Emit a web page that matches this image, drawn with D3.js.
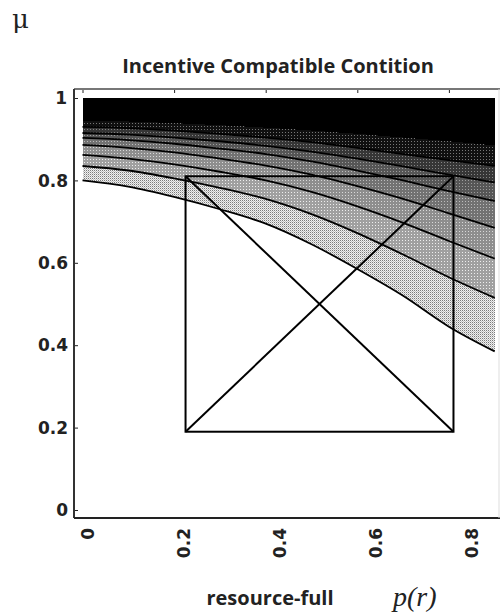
<!DOCTYPE html>
<html>
<head>
<meta charset="utf-8">
<script src="https://cdn.jsdelivr.net/npm/d3@7"></script>
<style>
	body { margin: 0; background: #fff; }
</style>
</head>
<body>
<div id="container"></div>
<script>
(function () {
	// p(r) grid and the contour levels (bottom to top)
	var pr = [0, 0.1, 0.2, 0.3, 0.4, 0.5, 0.6, 0.7, 0.8, 0.9];
	var level1 = [0.800, 0.785, 0.760, 0.730, 0.695, 0.645, 0.585, 0.520, 0.445, 0.385];
	var level2 = [0.835, 0.824, 0.805, 0.782, 0.755, 0.718, 0.672, 0.620, 0.565, 0.515];
	var level3 = [0.862, 0.853, 0.839, 0.821, 0.800, 0.772, 0.737, 0.697, 0.653, 0.610];
	var level4 = [0.886, 0.879, 0.868, 0.853, 0.836, 0.814, 0.786, 0.755, 0.720, 0.685];
	var level5 = [0.903, 0.898, 0.889, 0.877, 0.864, 0.846, 0.824, 0.800, 0.774, 0.750];
	var level6 = [0.915, 0.911, 0.904, 0.895, 0.884, 0.870, 0.853, 0.834, 0.814, 0.795];
	var level7 = [0.930, 0.927, 0.921, 0.913, 0.904, 0.893, 0.879, 0.864, 0.849, 0.835];
	var level8 = [0.945, 0.943, 0.939, 0.934, 0.928, 0.921, 0.913, 0.904, 0.895, 0.885];
	var topLevel = [1, 1, 1, 1, 1, 1, 1, 1, 1, 1];

	// the rectangle with its two diagonals
	var boxX = [0.225, 0.81];
	var boxY = [0.19, 0.81];

	var xTicks = [0, 0.2, 0.4, 0.6, 0.8];
	var yTicks = [0, 0.2, 0.4, 0.6, 0.8, 1];

	var levels = [level1, level2, level3, level4, level5, level6, level7, level8, topLevel];

	// fill of each band: background and dither dot
	var shades = [
		{bg: "#f0f0f0", dot: "#7a7a7a", size: 2},
		{bg: "#a0a0a0", dot: "#eeeeee", size: 3},
		{bg: "#8e8e8e", dot: "#d8d8d8", size: 3},
		{bg: "#727272", dot: "#bcbcbc", size: 3},
		{bg: "#565656", dot: "#9c9c9c", size: 3},
		{bg: "#363636", dot: "#858585", size: 3},
		{bg: "#101010", dot: "#777777", size: 3},
		{bg: "#000000", dot: "#000000", size: 3}
	];

	var svg = d3.select("#container")
		.append("svg")
			.attr("width", 500)
			.attr("height", 615);

	// scales
	var xScale = d3.scaleLinear()
		.domain([0, 1])
		.range([82.5, 540.5]);

	// the printed tick labels sit a little off their ticks
	var xLabelScale = d3.scaleLinear()
		.domain([0, 0.8])
		.range([88, 472]);

	var yScale = d3.scaleLinear()
		.domain([0, 1])
		.range([510, 98]);

	// patterns
	var defs = svg.append("defs");
	shades.forEach(function (s, i) {
		var p = defs.append("pattern")
			.attr("id", "band" + i)
			.attr("patternUnits", "userSpaceOnUse")
			.attr("width", s.size)
			.attr("height", s.size);
		p.append("rect")
			.attr("width", s.size)
			.attr("height", s.size)
			.attr("fill", s.bg);
		p.append("rect")
			.attr("width", 1)
			.attr("height", 1)
			.attr("fill", s.dot);
		if (s.size == 2) {
			p.append("rect")
				.attr("x", 1).attr("y", 1)
				.attr("width", 1).attr("height", 1)
				.attr("fill", "#c0c0c0");
		}
	});

	// bands
	for (var i = 0; i < levels.length - 1; i++) {
		var lo = levels[i], hi = levels[i + 1];
		var area = d3.area()
			.curve(d3.curveMonotoneX)
			.x(function (d, j) { return xScale(pr[j]); })
			.y0(function (d, j) { return yScale(lo[j]); })
			.y1(function (d, j) { return yScale(hi[j]); });
		svg.append("path")
			.datum(pr)
			.attr("d", area)
			.attr("fill", "url(#band" + i + ")")
			.attr("stroke", "none")
			.style("shape-rendering", "crispEdges");
	}

	// contour lines
	levels.slice(0, 7).forEach(function (lv) {
		var line = d3.line()
			.curve(d3.curveMonotoneX)
			.x(function (d, j) { return xScale(pr[j]); })
			.y(function (d, j) { return yScale(lv[j]); });
		svg.append("path")
			.datum(pr)
			.attr("d", line)
			.attr("fill", "none")
			.attr("stroke", "#000")
			.attr("stroke-width", 1.8);
	});

	// box with diagonals
	var bx0 = xScale(boxX[0]), bx1 = xScale(boxX[1]),
		by0 = yScale(boxY[0]), by1 = yScale(boxY[1]);
	svg.append("rect")
		.attr("x", bx0)
		.attr("y", by1)
		.attr("width", bx1 - bx0)
		.attr("height", by0 - by1)
		.attr("fill", "none")
		.attr("stroke", "#000")
		.attr("stroke-width", 2);
	svg.append("line")
		.attr("x1", bx0).attr("y1", by1)
		.attr("x2", bx1).attr("y2", by0)
		.attr("stroke", "#000").attr("stroke-width", 2);
	svg.append("line")
		.attr("x1", bx0).attr("y1", by0)
		.attr("x2", bx1).attr("y2", by1)
		.attr("stroke", "#000").attr("stroke-width", 2);

	// frame
	var fx0 = 74, fx1 = 500, fy0 = 89, fy1 = 518;
	svg.append("line")
		.attr("x1", fx0).attr("y1", fy0).attr("x2", fx1).attr("y2", fy0)
		.attr("stroke", "#777").attr("stroke-width", 2);
	svg.append("line")
		.attr("x1", fx0).attr("y1", fy0).attr("x2", fx0).attr("y2", fy1)
		.attr("stroke", "#333").attr("stroke-width", 2);
	svg.append("line")
		.attr("x1", fx0).attr("y1", fy1).attr("x2", fx1).attr("y2", fy1)
		.attr("stroke", "#222").attr("stroke-width", 2);
	svg.append("line")
		.attr("x1", 499).attr("y1", fy0).attr("x2", 499).attr("y2", fy1)
		.attr("stroke", "#ddd").attr("stroke-width", 1);

	// ticks on top and left
	svg.append("g")
		.attr("transform", "translate(0," + (fy0 + 1) + ")")
		.call(d3.axisBottom(xScale).tickValues(xTicks).tickSize(3).tickFormat(""))
		.call(function (g) { g.select(".domain").remove(); })
		.selectAll("line").attr("stroke", "#222");

	svg.append("g")
		.attr("transform", "translate(" + (fx0 + 1) + ",0)")
		.call(d3.axisRight(yScale).tickValues(yTicks).tickSize(3).tickFormat(""))
		.call(function (g) { g.select(".domain").remove(); })
		.selectAll("line").attr("stroke", "#222");

	// y labels
	var yl = svg.append("g")
		.style("font-family", "DejaVu Sans")
		.style("font-weight", "bold")
		.style("font-size", "17px")
		.attr("fill", "#222");
	yTicks.forEach(function (v) {
		yl.append("text")
			.attr("x", v === 1 ? 67 : 68)
			.attr("y", yScale(v))
			.attr("dy", "0.36em")
			.attr("text-anchor", "end")
			.text(v === 0 ? "0" : (v === 1 ? "1" : v.toFixed(1)));
	});

	// x labels, rotated
	var xl = svg.append("g")
		.style("font-family", "DejaVu Sans")
		.style("font-weight", "bold")
		.style("font-size", "17px")
		.attr("fill", "#222");
	xTicks.forEach(function (v) {
		var cx = xLabelScale(v);
		xl.append("text")
			.attr("transform", "translate(" + cx + ",528) rotate(-90)")
			.attr("dy", "0.36em")
			.attr("text-anchor", "end")
			.text(v === 0 ? "0" : v.toFixed(1));
	});

	// titles
	svg.append("text")
		.attr("x", 278)
		.attr("y", 73)
		.attr("text-anchor", "middle")
		.style("font-family", "Open Sans")
		.style("font-weight", "bold")
		.style("font-size", "20px")
		.attr("fill", "#222")
		.text("Incentive Compatible Contition");

	svg.append("text")
		.attr("x", 12)
		.attr("y", 28)
		.style("font-family", "DejaVu Serif")
		.style("font-size", "26px")
		.attr("fill", "#222")
		.text("μ");

	svg.append("text")
		.attr("x", 270)
		.attr("y", 605)
		.attr("text-anchor", "middle")
		.style("font-family", "Open Sans")
		.style("font-weight", "bold")
		.style("font-size", "20px")
		.attr("fill", "#222")
		.text("resource-full");

	svg.append("text")
		.attr("x", 393)
		.attr("y", 606)
		.style("font-family", "Liberation Serif")
		.style("font-style", "italic")
		.style("font-size", "28px")
		.attr("fill", "#222")
		.text("p(r)");
})();
</script>
</body>
</html>
